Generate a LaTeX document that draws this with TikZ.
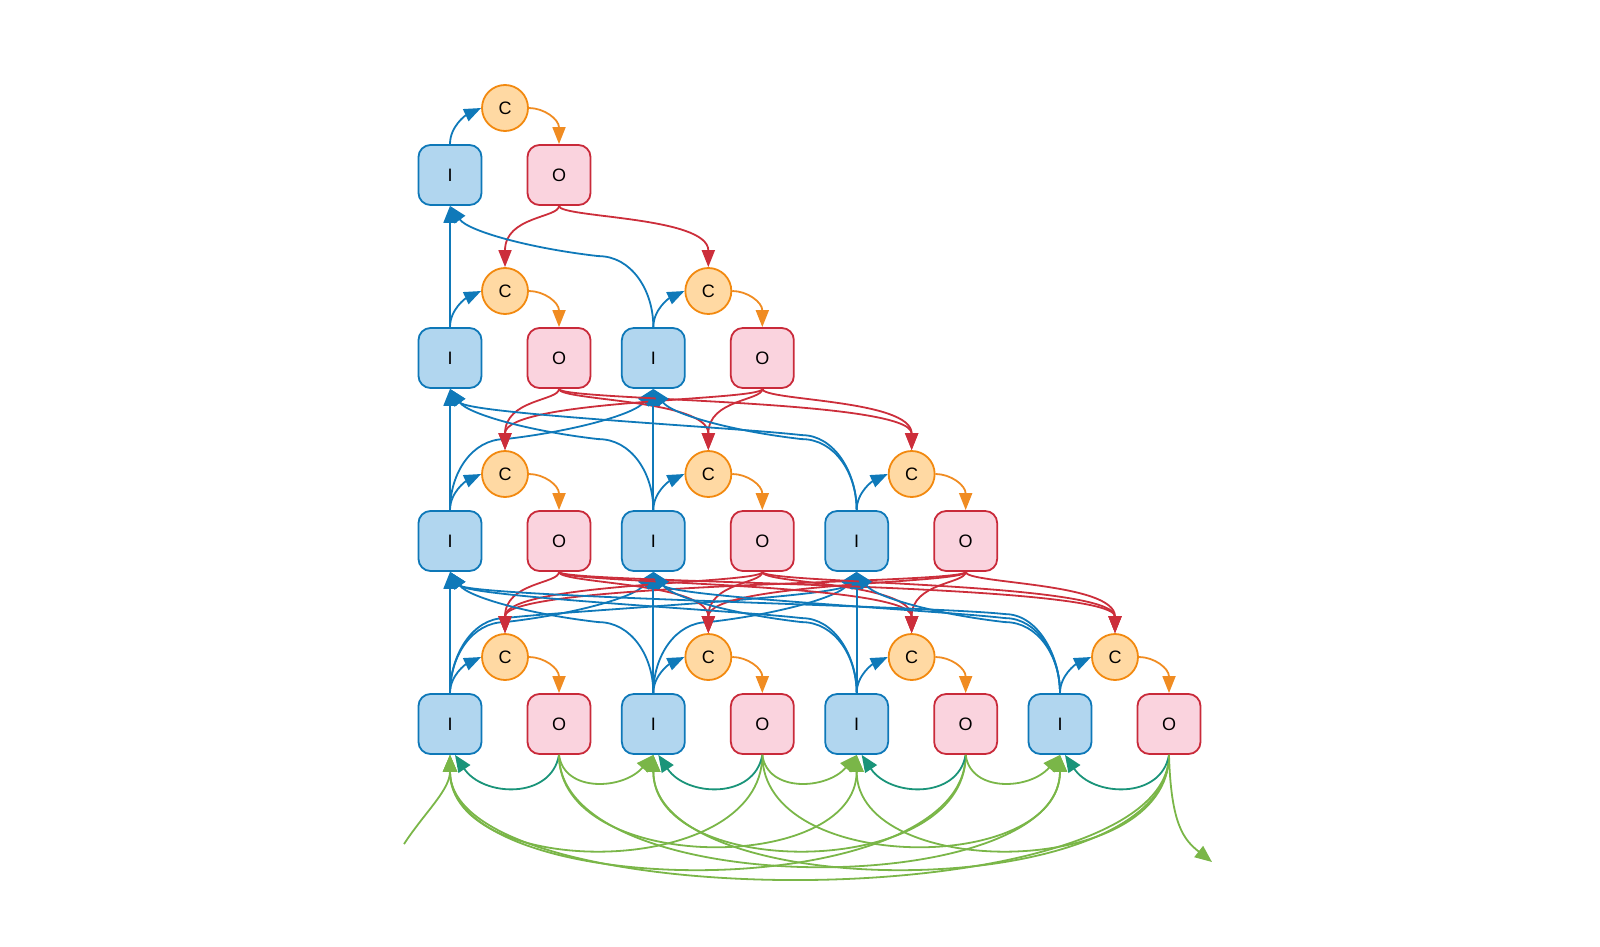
\documentclass[tikz,border=0pt]{standalone}
\usepackage{fontspec}
\setmainfont{Liberation Sans}
\usetikzlibrary{arrows.meta,calc}
\definecolor{ifill}{HTML}{B1D6EF}
\definecolor{iline}{HTML}{0E78B8}
\definecolor{ofill}{HTML}{FAD3DE}
\definecolor{oline}{HTML}{C92A3A}
\definecolor{cfill}{HTML}{FFD9A3}
\definecolor{cline}{HTML}{F2890F}
\definecolor{barr}{HTML}{0F79B9}
\definecolor{rarr}{HTML}{CC2E3B}
\definecolor{oarr}{HTML}{F08C22}
\definecolor{garr}{HTML}{7AB648}
\definecolor{tarr}{HTML}{1A9479}
\begin{document}
\begin{tikzpicture}[x=1pt,y=-1pt,
  lbl/.style={font=\fontsize{18}{20}\selectfont},
  ibox/.style={lbl,draw=iline,fill=ifill,line width=1.8pt,rounded corners=12pt,minimum width=63pt,minimum height=60pt,inner sep=0pt},
  obox/.style={lbl,draw=oline,fill=ofill,line width=1.8pt,rounded corners=12pt,minimum width=63pt,minimum height=60pt,inner sep=0pt},
  cnode/.style={lbl,circle,draw=cline,fill=cfill,line width=1.8pt,minimum size=46pt,inner sep=0pt},
  blu/.style={draw=barr,line width=1.8pt,-{Triangle[length=17pt,width=13pt]}},
  red/.style={draw=rarr,line width=1.8pt,-{Triangle[length=17pt,width=13pt]}},
  org/.style={draw=oarr,line width=1.8pt,-{Triangle[length=17pt,width=13pt]}},
  grn/.style={draw=garr,line width=1.8pt,-{Triangle[length=17pt,width=14pt]}},
  tel/.style={draw=tarr,line width=1.8pt,-{Triangle[length=17pt,width=14pt]}}
]
\useasboundingbox (0,0) rectangle (1600,947);
% nodes
\foreach \L in {1,2,3,4}{
  \foreach \j in {1,...,\L}{
    \pgfmathsetmacro{\xi}{450+203.33*(\j-1)}
    \pgfmathsetmacro{\yy}{175+183*(\L-1)}
    \node[ibox] (I-\L-\j) at (\xi,\yy) {I};
    \node[obox] (O-\L-\j) at (\xi+109,\yy) {O};
    \node[cnode] (C-\L-\j) at (\xi+55,\yy-67) {C};
  }
}
% within a pair
\foreach \L in {1,2,3,4}{
  \foreach \j in {1,...,\L}{
    \draw[blu] (I-\L-\j.north) .. controls +(0,-18) and +(-15,7) .. (C-\L-\j.west);
    \draw[org] (C-\L-\j.east) .. controls +(15,0) and +(0,-25) .. (O-\L-\j.north);
  }
}
% between levels
\foreach \L/\M in {1/2,2/3,3/4}{
  \foreach \j in {1,...,\M}{
    \foreach \m in {1,...,\L}{
      \ifnum\j=\m
        \draw[blu] (I-\M-\j.north) -- (I-\L-\m.south);
      \else
        \pgfmathsetmacro{\sg}{sign(\m-\j)}
        \pgfmathsetmacro{\vv}{71+4*(abs(\j-\m)-1)}
        \draw[blu] (I-\M-\j.north) .. controls +(0,-37) and +(-\sg*33,0) .. ($(I-\M-\j.north)+(\sg*55,-\vv)$)
          .. controls +(\sg*70,-8) and +(-\sg*18,25) .. (I-\L-\m.south);
      \fi
      \draw[red] (O-\L-\m.south) .. controls +(0,12) and +(0,-51) .. (C-\M-\j.north);
    }
  }
}
% bottom: outputs to inputs
\foreach \j in {1,2,3,4}{
  \foreach \k in {1,2,3,4}{
    \pgfmathsetmacro{\dx}{(\k-\j)*203.33-109}
    \pgfmathsetmacro{\adx}{abs(\dx)}
    \pgfmathsetmacro{\dep}{\adx<400 ? 90+(\adx-297)*0.3 : (\adx<600 ? 110+(\adx-500)*0.2 : 123)}
    \pgfmathsetmacro{\hh}{\dep*4/3}
    \ifnum\k=\j
      \draw[tel] (O-4-\j.south) .. controls +(-8,45) and +(28,42) .. ([xshift=5pt]I-4-\k.south);
    \else
      \ifnum\k=\numexpr\j+1\relax
        \draw[grn] (O-4-\j.south) .. controls +(5,38) and +(-30,35) .. (I-4-\k.south);
      \else
        \draw[grn] (O-4-\j.south) .. controls +(0,\hh) and +(0,\hh) .. (I-4-\k.south);
      \fi
    \fi
  }
}
\coordinate (inp) at (404,844);
\coordinate (outp) at (1212,862);
\draw[grn] (inp) .. controls (425,812) and (450,790) .. (I-4-1.south);
\draw[grn] (O-4-4.south) .. controls +(2,70) and +(-28,-22) .. (outp);
\end{tikzpicture}
\end{document}
